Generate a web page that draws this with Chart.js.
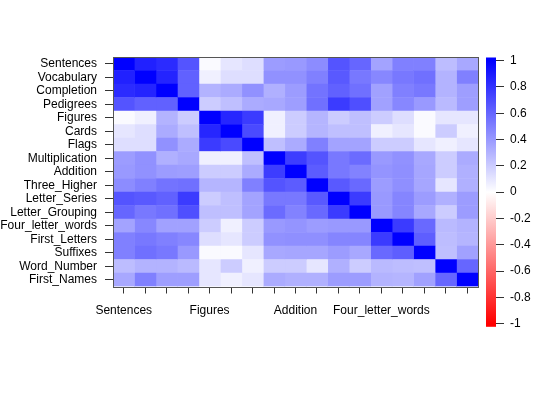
<!DOCTYPE html>
<html>
<head>
<meta charset="utf-8">
<script src="https://cdn.jsdelivr.net/npm/chart.js@4"></script>
<style>
  body { margin: 0; background: #fff; }
  #wrap { position: relative; width: 540px; height: 400px; }
  #heat { position: absolute; left: 0; top: 0; }
  #bar { position: absolute; left: 480px; top: 40px; }
</style>
</head>
<body>
<div id="wrap">
  <canvas id="heat" width="540" height="400"></canvas>
  <canvas id="bar" width="60" height="300"></canvas>
</div>
<script>
// variables (same order for rows and columns)
const variables = ["Sentences", "Vocabulary", "Completion", "Pedigrees", "Figures", "Cards", "Flags",
  "Multiplication", "Addition", "Three_Higher", "Letter_Series", "Letter_Grouping",
  "Four_letter_words", "First_Letters", "Suffixes", "Word_Number", "First_Names"];

// column labels printed under the x axis
const xShown = ["Sentences", "Figures", "Addition", "Four_letter_words"];

// colour bar tick labels
const legendTicks = [1, 0.8, 0.6, 0.4, 0.2, 0, -0.2, -0.4, -0.6, -0.8, -1];

// correlation rows
const corr = [
  [1, .87, .83, .67, .02, .10, .13, .39, .40, .45, .67, .60, .36, .50, .50, .26, .34],
  [.87, 1, .86, .62, .06, .13, .13, .43, .43, .50, .65, .53, .47, .53, .56, .30, .50],
  [.83, .86, 1, .62, .30, .33, .43, .31, .39, .55, .62, .56, .37, .50, .53, .30, .38],
  [.67, .62, .62, 1, .20, .25, .33, .34, .38, .56, .77, .69, .37, .47, .40, .27, .38],
  [.02, .06, .30, .20, 1, .85, .77, .06, .20, .29, .20, .25, .20, .13, .02, .10, .10],
  [.10, .13, .33, .25, .85, 1, .71, .06, .20, .29, .25, .25, .06, .10, .02, .20, .06],
  [.13, .13, .43, .33, .77, .71, 1, .25, .33, .50, .36, .36, .20, .20, .10, .06, .10],
  [.39, .43, .31, .34, .06, .06, .25, 1, .76, .67, .53, .58, .40, .43, .34, .20, .33],
  [.40, .43, .39, .38, .20, .20, .33, .76, 1, .64, .53, .49, .42, .44, .35, .20, .31],
  [.45, .50, .55, .56, .29, .29, .50, .67, .64, 1, .65, .59, .39, .44, .35, .10, .31],
  [.67, .65, .62, .77, .20, .25, .36, .53, .53, .65, 1, .77, .40, .48, .39, .31, .39],
  [.60, .53, .56, .69, .25, .25, .36, .58, .49, .59, .77, 1, .40, .48, .34, .20, .39],
  [.36, .47, .37, .37, .20, .06, .20, .40, .42, .39, .40, .40, 1, .77, .59, .27, .30],
  [.50, .53, .50, .47, .13, .10, .20, .43, .44, .44, .48, .48, .77, 1, .63, .26, .29],
  [.50, .56, .53, .40, .02, .02, .10, .34, .35, .35, .39, .34, .59, .63, 1, .25, .37],
  [.26, .30, .30, .27, .10, .20, .06, .20, .20, .10, .31, .20, .27, .26, .25, 1, .60],
  [.34, .50, .38, .38, .10, .06, .10, .33, .31, .31, .39, .39, .30, .29, .37, .60, 1]
];

// red - white - blue
function colorFor(v) {
  if (v >= 0) {
    const c = Math.round(255 * (1 - v));
    return `rgb(${c},${c},255)`;
  }
  const c = Math.round(255 * (1 + v));
  return `rgb(255,${c},${c})`;
}

const font = { family: "'Liberation Sans', Arial, sans-serif", size: 12 };
const textColor = "#000";

// one stacked dataset per column, each cell is one unit wide
const datasets = variables.map((name, j) => ({
  label: name,
  data: variables.map(() => 1),
  backgroundColor: corr.map(row => colorFor(row[j])),
  borderWidth: 0,
  barPercentage: 1,
  categoryPercentage: 1
}));

const frame = {
  id: "frame",
  afterDraw(chart) {
    const a = chart.chartArea;
    const ctx = chart.ctx;
    ctx.save();
    ctx.strokeStyle = "#555";
    ctx.lineWidth = 1;
    ctx.strokeRect(Math.round(a.left) + 0.5, Math.round(a.top) + 0.5,
      Math.round(a.right - a.left), Math.round(a.bottom - a.top));
    ctx.restore();
  }
};

new Chart(document.getElementById("heat"), {
  type: "bar",
  data: { labels: variables, datasets },
  options: {
    indexAxis: "y",
    responsive: false,
    animation: false,
    devicePixelRatio: 1,
    layout: { padding: { left: 0, right: 62, top: 57, bottom: 0 } },
    plugins: { legend: { display: false }, tooltip: { enabled: false } },
    scales: {
      x: {
        type: "linear",
        stacked: true,
        min: 0,
        max: variables.length,
        afterBuildTicks: s => { s.ticks = variables.map((_, i) => ({ value: i + 0.5 })); },
        afterFit: s => { s.height = 113.5; },
        ticks: {
          autoSkip: false,
          maxRotation: 0,
          padding: 10,
          color: textColor,
          font,
          callback: (v, i) => xShown.includes(variables[i]) ? variables[i] : ""
        },
        grid: { drawOnChartArea: false, drawTicks: true, tickLength: 7, color: "#333" },
        border: { display: false }
      },
      y: {
        stacked: true,
        afterFit: s => { s.width = 113; },
        ticks: { autoSkip: false, padding: 8, color: textColor, font },
        grid: { offset: false, drawOnChartArea: false, drawTicks: true, tickLength: 8, color: "#333" },
        border: { display: false }
      }
    }
  },
  plugins: [frame]
});

// colour bar drawn over the y scale of a small second chart
const gradientBar = {
  id: "gradientBar",
  beforeDatasetsDraw(chart) {
    const a = chart.chartArea;
    const y = chart.scales.y;
    const ctx = chart.ctx;
    const g = ctx.createLinearGradient(0, y.getPixelForValue(1), 0, y.getPixelForValue(-1));
    g.addColorStop(0, colorFor(1));
    g.addColorStop(0.5, colorFor(0));
    g.addColorStop(1, colorFor(-1));
    ctx.save();
    ctx.fillStyle = g;
    ctx.fillRect(a.left, a.top, a.right - a.left, a.bottom - a.top);
    ctx.restore();
  }
};

new Chart(document.getElementById("bar"), {
  type: "scatter",
  data: { datasets: [{ data: [] }] },
  options: {
    responsive: false,
    animation: false,
    devicePixelRatio: 1,
    layout: { padding: { left: 6, right: 0, top: 17.5, bottom: 12 } },
    plugins: { legend: { display: false }, tooltip: { enabled: false } },
    scales: {
      x: { display: false, min: 0, max: 1 },
      y: {
        position: "right",
        min: -1.024,
        max: 1.024,
        afterBuildTicks: s => { s.ticks = legendTicks.map(v => ({ value: v })); },
        afterFit: s => { s.width = 44; },
        ticks: {
          padding: 6,
          color: textColor,
          font,
          callback: v => String(Math.round(v * 10) / 10)
        },
        grid: { drawOnChartArea: false, drawTicks: true, tickLength: 8, color: "#333" },
        border: { display: false }
      }
    }
  },
  plugins: [gradientBar]
});
</script>
</body>
</html>
